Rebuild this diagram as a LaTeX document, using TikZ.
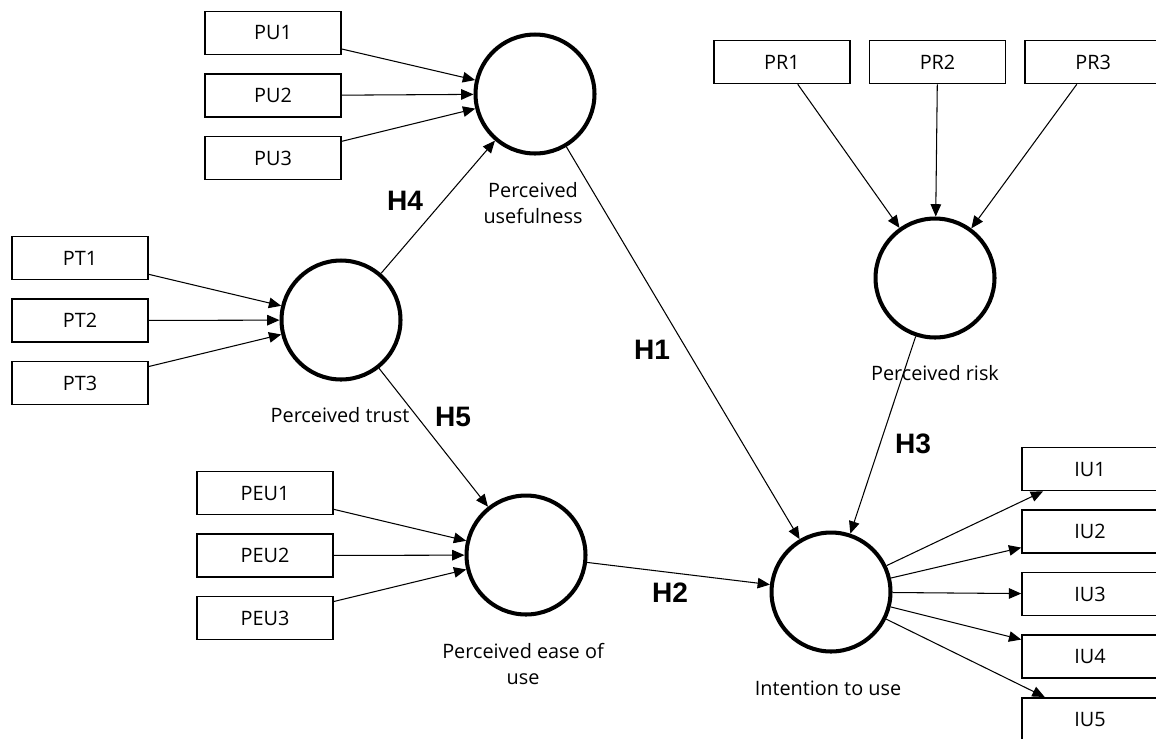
\documentclass[tikz,border=0pt]{standalone}
\usepackage{fontspec}
\setmainfont{Open Sans}
\newfontfamily\hfont{Liberation Sans}
\usetikzlibrary{arrows.meta,positioning}
\tikzset{
  ind/.style={draw, line width=0.9pt, minimum width=2.72cm, minimum height=0.86cm, inner sep=0pt, font=\fontsize{11.3}{13}\selectfont},
  lat/.style={draw, circle, line width=2.3pt, minimum size=2.38cm, inner sep=0pt},
  arr/.style={-{Triangle[length=7pt, width=6pt]}, line width=0.6pt},
  lbl/.style={align=center, font=\fontsize{11.3}{15}\selectfont},
  hyp/.style={font=\hfont\bfseries\fontsize{16}{19}\selectfont}
}

\begin{document}
\begin{tikzpicture}[x=0.02cm, y=-0.02cm, node distance=0.36cm]
  \useasboundingbox (0,0) rectangle (1156,738);
  % constructs
  \node[lat] (puc) at (535,94) {};
  \node[lat] (ptc) at (341,320) {};
  \node[lat] (peuc) at (526,555) {};
  \node[lat] (prc) at (935,278) {};
  \node[lat] (iuc) at (831,592) {};
  \node[lbl] (pul) at (533,203) {Perceived\\usefulness};
  \node[lbl] (ptl) at (340,415) {Perceived trust};
  \node[lbl] (peul) at (523,664) {Perceived ease of\\use};
  \node[lbl] (prl) at (935,373) {Perceived risk};
  \node[lbl] (iul) at (828,688) {Intention to use};
  % indicators
  \node[ind] (pu1) at (273,33) {PU1};
  \node[ind, below=of pu1] (pu2) {PU2};
  \node[ind, below=of pu2] (pu3) {PU3};
  \node[ind] (pt1) at (80,258) {PT1};
  \node[ind, below=of pt1] (pt2) {PT2};
  \node[ind, below=of pt2] (pt3) {PT3};
  \node[ind] (peu1) at (265,493) {PEU1};
  \node[ind, below=of peu1] (peu2) {PEU2};
  \node[ind, below=of peu2] (peu3) {PEU3};
  \node[ind] (pr1) at (782,62) {PR1};
  \node[ind, right=of pr1] (pr2) {PR2};
  \node[ind, right=of pr2] (pr3) {PR3};
  \node[ind] (iu1) at (1090,469) {IU1};
  \node[ind, below=of iu1] (iu2) {IU2};
  \node[ind, below=of iu2] (iu3) {IU3};
  \node[ind, below=of iu3] (iu4) {IU4};
  \node[ind, below=of iu4] (iu5) {IU5};
  % measurement arrows
  \draw[arr] (pu1) -- (puc);
  \draw[arr] (pu2) -- (puc);
  \draw[arr] (pu3) -- (puc);
  \draw[arr] (pt1) -- (ptc);
  \draw[arr] (pt2) -- (ptc);
  \draw[arr] (pt3) -- (ptc);
  \draw[arr] (peu1) -- (peuc);
  \draw[arr] (peu2) -- (peuc);
  \draw[arr] (peu3) -- (peuc);
  \draw[arr] (pr1) -- (prc);
  \draw[arr] (pr2) -- (prc);
  \draw[arr] (pr3) -- (prc);
  \draw[arr] (iuc) -- (iu1);
  \draw[arr] (iuc) -- (iu2);
  \draw[arr] (iuc) -- (iu3);
  \draw[arr] (iuc) -- (iu4);
  \draw[arr] (iuc) -- (iu5);
  % hypotheses
  \draw[arr] (puc) -- (iuc);
  \draw[arr] (peuc) -- (iuc);
  \draw[arr] (prc) -- (iuc);
  \draw[arr] (ptc) -- (puc);
  \draw[arr] (ptc) -- (peuc);
  \node[hyp] (h1) at (652,350) {H1};
  \node[hyp] (h2) at (670,593) {H2};
  \node[hyp] (h3) at (913,444) {H3};
  \node[hyp] (h4) at (405,201) {H4};
  \node[hyp] (h5) at (453,417) {H5};
\end{tikzpicture}
\end{document}
